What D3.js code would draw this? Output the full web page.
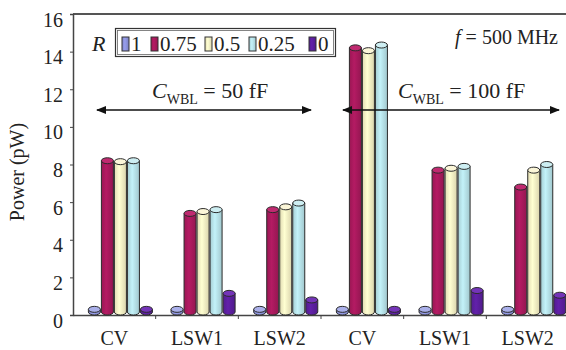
<!DOCTYPE html>
<html>
<head>
<meta charset="utf-8">
<script src="https://cdn.jsdelivr.net/npm/d3@7"></script>
<style>
  html, body { margin: 0; padding: 0; background: #fff; }
  svg { display: block; }
  svg text, svg tspan { font-family: "Liberation Serif", "Times New Roman", serif !important; }
</style>
</head>
<body>
<svg id="chart" width="566" height="350"></svg>
<script>
// chart values
const groups = ["CV", "LSW1", "LSW2", "CV", "LSW1", "LSW2"];
const ratios = ["1", "0.75", "0.5", "0.25", "0"];
const valuesR1 = [0.3, 0.3, 0.3, 0.3, 0.3, 0.3];
const valuesR075 = [8.2, 5.4, 5.6, 14.2, 7.7, 6.8];
const valuesR05 = [8.15, 5.5, 5.75, 14.05, 7.8, 7.7];
const valuesR025 = [8.2, 5.6, 5.95, 14.35, 7.9, 8.0];
const valuesR0 = [0.3, 1.15, 0.8, 0.3, 1.3, 1.05];
const yTicks = [0, 2, 4, 6, 8, 10, 12, 14, 16];

const seriesValues = [valuesR1, valuesR075, valuesR05, valuesR025, valuesR0];
const fills = ["#8d93dc", "#a8195c", "#f7f0c4", "#b6e1e8", "#5b1f9e"];
const topFills = ["#aab0ea", "#c02a70", "#fbf6d8", "#cdeef2", "#7434b8"];
const serif = "'Liberation Serif', 'Times New Roman', serif";

const svg = d3.select("#chart");
const plotLeft = 73, plotRight = 569, plotTop = 14, plotBottom = 315;

const x = d3.scaleBand().domain(d3.range(groups.length)).range([plotLeft, plotRight]);
const bw = x.bandwidth();
const xr = d3.scaleBand().domain(ratios).range([0.18 * bw, 0.967 * bw]);
const y = d3.scaleLinear().domain([0, 16]).range([plotBottom, plotTop]);

// gradients for a bit of cylinder shading
const defs = svg.append("defs");
fills.forEach((c, i) => {
  const g = defs.append("linearGradient").attr("id", "grad" + i)
    .attr("x1", "0%").attr("x2", "100%").attr("y1", "0%").attr("y2", "0%");
  const col = d3.color(c);
  g.append("stop").attr("offset", "0%").attr("stop-color", col.darker(0.25));
  g.append("stop").attr("offset", "40%").attr("stop-color", col.brighter(0.2));
  g.append("stop").attr("offset", "100%").attr("stop-color", col.darker(0.35));
});

// frame: top line and axes
svg.append("line")
  .attr("x1", plotLeft).attr("x2", 566).attr("y1", plotTop).attr("y2", plotTop)
  .attr("stroke", "#555").attr("stroke-width", 2);

const yAxis = svg.append("g")
  .attr("transform", `translate(${plotLeft},0)`)
  .call(d3.axisLeft(y).tickValues(yTicks).tickSize(3).tickPadding(7));
yAxis.attr("font-family", serif);
yAxis.select(".domain").attr("stroke", "#444").attr("stroke-width", 1.5);
yAxis.selectAll(".tick line").attr("stroke", "#444");
yAxis.selectAll(".tick text")
  .attr("font-size", 20).attr("fill", "#222").attr("dy", "0.6em");

const xAxis = svg.append("g")
  .attr("transform", `translate(0,${plotBottom})`)
  .call(d3.axisBottom(x).tickSize(0).tickPadding(16).tickFormat((i) => groups[i]));
xAxis.attr("font-family", serif);
xAxis.select(".domain").attr("stroke", "#444").attr("stroke-width", 1.5);
xAxis.selectAll(".tick text")
  .attr("font-size", 20).attr("fill", "#222");
// separators between categories
svg.append("g").selectAll("line")
  .data(d3.range(1, groups.length))
  .join("line")
  .attr("x1", (i) => x(i)).attr("x2", (i) => x(i))
  .attr("y1", plotBottom).attr("y2", plotBottom + 4)
  .attr("stroke", "#444");

// cylinders
const ry = 3;
const bars = svg.append("g");
ratios.forEach((r, si) => {
  const w = xr.bandwidth();
  seriesValues[si].forEach((v, gi) => {
    const x0 = x(gi) + xr(r) + 0.5;
    const x1 = x0 + w - 1;
    const yB = plotBottom - ry;
    const yT = Math.min(y(v), yB);
    const rx = (x1 - x0) / 2;
    const g = bars.append("g");
    g.append("path")
      .attr("d", `M${x0},${yT} L${x0},${yB} A${rx},${ry} 0 0 0 ${x1},${yB} L${x1},${yT} Z`)
      .attr("fill", `url(#grad${si})`)
      .attr("stroke", "#2b2b2b").attr("stroke-width", 1);
    g.append("ellipse")
      .attr("cx", (x0 + x1) / 2).attr("cy", yT)
      .attr("rx", rx).attr("ry", ry)
      .attr("fill", topFills[si])
      .attr("stroke", "#2b2b2b").attr("stroke-width", 1);
  });
});

// legend
const legend = svg.append("g").attr("font-family", serif);
legend.append("text")
  .attr("x", 92).attr("y", 51)
  .attr("font-size", 22).attr("font-style", "italic").attr("fill", "#222")
  .text("R");
legend.append("rect")
  .attr("x", 115.5).attr("y", 28.5).attr("width", 220).attr("height", 28)
  .attr("fill", "#fff").attr("stroke", "#333").attr("stroke-width", 1.2);
legend.append("rect")
  .attr("x", 117.5).attr("y", 30.5).attr("width", 216).attr("height", 24)
  .attr("fill", "none").attr("stroke", "#666").attr("stroke-width", 0.8);
const swatchX = [122, 151, 205, 249, 309];
ratios.forEach((r, i) => {
  legend.append("rect")
    .attr("x", swatchX[i]).attr("y", 37).attr("width", 7).attr("height", 14)
    .attr("fill", `url(#grad${i})`).attr("stroke", "#333").attr("stroke-width", 1);
  legend.append("text")
    .attr("x", swatchX[i] + 9).attr("y", 51)
    .attr("font-size", 21).attr("fill", "#222")
    .text(r);
});

// annotations
const arrow = defs.append("marker").attr("id", "arrowhead")
  .attr("viewBox", "0 0 10 8").attr("refX", 9).attr("refY", 4)
  .attr("markerWidth", 10).attr("markerHeight", 8)
  .attr("markerUnits", "userSpaceOnUse").attr("orient", "auto-start-reverse");
arrow.append("path").attr("d", "M0,0 L10,4 L0,8 Z").attr("fill", "#111");

const notes = [
  { x: 152, label: "50 fF", a: 97, b: 311 },
  { x: 398, label: "100 fF", a: 343, b: 559 }
];
notes.forEach((n) => {
  const t = svg.append("text")
    .attr("x", n.x).attr("y", 98)
    .attr("font-family", serif)
    .attr("font-size", 22).attr("fill", "#222");
  t.append("tspan").attr("font-style", "italic").text("C");
  t.append("tspan").attr("font-size", 14).attr("dy", 6).text("WBL");
  t.append("tspan").attr("dy", -6).text(" = " + n.label);
  svg.append("line")
    .attr("x1", n.a).attr("x2", n.b).attr("y1", 110).attr("y2", 110)
    .attr("stroke", "#111").attr("stroke-width", 1.5)
    .attr("marker-start", "url(#arrowhead)").attr("marker-end", "url(#arrowhead)");
});

const freq = svg.append("text")
  .attr("x", 558).attr("y", 44).attr("text-anchor", "end")
  .attr("font-family", serif)
  .attr("font-size", 20).attr("fill", "#222");
freq.append("tspan").attr("font-style", "italic").text("f");
freq.append("tspan").text(" = 500 MHz");

// y axis title
svg.append("text")
  .attr("transform", "translate(24,172) rotate(-90)")
  .attr("text-anchor", "middle")
  .attr("font-family", serif)
  .attr("font-size", 20).attr("fill", "#222")
  .text("Power (pW)");
</script>
</body>
</html>
